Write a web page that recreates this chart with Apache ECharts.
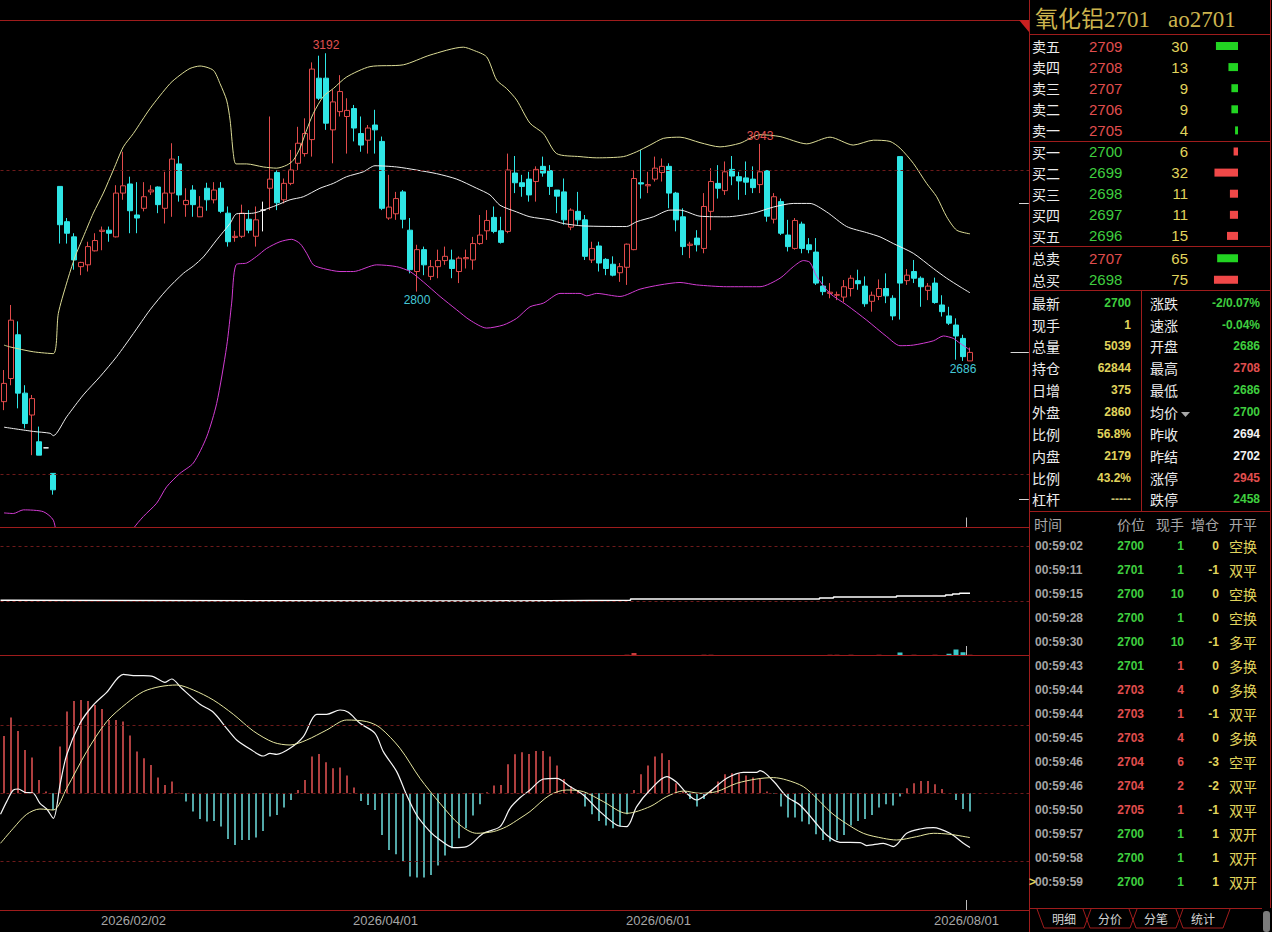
<!DOCTYPE html>
<html><head><meta charset="utf-8">
<script src="https://cdn.jsdelivr.net/npm/echarts@6/dist/echarts.min.js"></script>
<style>html,body{margin:0;padding:0;background:#000;overflow:hidden}#c{width:1272px;height:932px}</style>
</head><body><div id="c"></div>
<script>
// ---------- DATA ----------
// daily candles [open, close, low, high]
const candles = [
[2619,2649,2605,2671],[2657,2753,2646,2778],[2729,2633,2608,2751],[2633,2583,2575,2646],[2597,2624,2531,2630],
[2553,2531,2531,2578],[2543,2543,2543,2543],[2501,2474,2466,2501],[2973,2910,2879,2973],[2915,2896,2879,2921],
[2890,2852,2836,2896],[2841,2848,2827,2849],[2844,2874,2833,2882],[2867,2884,2866,2896],[2899,2901,2868,2907],
[2901,2896,2882,2907],[2890,2962,2889,2975],[2962,2974,2951,3030],[2977,2933,2896,2989],[2926,2921,2896,2980],
[2937,2956,2932,2980],[2964,2967,2959,2975],[2972,2943,2929,2973],[2937,2962,2912,2997],[2962,3018,2923,3044],
[3010,2959,2948,3023],[2943,2950,2923,2970],[2967,2943,2923,2975],[2923,2939,2923,2957],[2970,2951,2933,2979],
[2951,2967,2945,2980],[2970,2932,2929,2980],[2929,2882,2874,2940],[2889,2891,2882,2900],[2891,2929,2888,2943],
[2919,2901,2896,2934],[2891,2918,2874,2940],[2934,2934,2899,2948],[2970,2985,2934,3088],[2996,2946,2934,3000],
[2951,2978,2945,2986],[2978,3000,2975,3033],[3011,3044,3000,3071],[3027,3060,3022,3085],[3050,3166,3022,3177],
[3151,3118,3115,3188],[3151,3077,3066,3192],[3066,3112,3011,3132],[3096,3129,3088,3156],[3088,3098,3027,3118],
[3101,3069,3047,3107],[3060,3041,3030,3088],[3049,3069,3027,3074],[3074,3066,3027,3099],[3047,2937,2934,3055],
[2921,2939,2918,2992],[2928,2953,2918,2964],[2964,2919,2904,2967],[2901,2836,2830,2921],[2833,2869,2800,2877],
[2869,2844,2827,2874],[2825,2841,2819,2852],[2841,2851,2822,2869],[2851,2858,2844,2874],[2852,2838,2822,2869],
[2833,2855,2814,2858],[2854,2856,2838,2869],[2852,2879,2836,2890],[2879,2893,2877,2926],[2900,2917,2885,2934],
[2922,2899,2896,2940],[2900,2881,2879,2923],[2899,3000,2896,3027],[2995,2979,2962,3023],[2979,2973,2956,2992],
[2985,2959,2948,2997],[2981,3001,2948,3006],[3006,2995,2989,3022],[2999,2973,2959,3008],[2967,2957,2929,2967],
[2964,2918,2910,2986],[2906,2934,2901,2937],[2932,2918,2910,2964],[2918,2858,2852,2926],[2852,2871,2847,2882],
[2875,2847,2833,2882],[2853,2838,2827,2855],[2845,2827,2825,2858],[2831,2841,2816,2847],[2840,2878,2811,2879],
[2869,2986,2868,3000],[2979,2977,2953,3033],[2974,2976,2962,2997],[2985,3003,2981,3022],[2996,3006,2981,3019],
[3006,2962,2937,3011],[2962,2918,2899,2964],[2923,2874,2860,2937],[2876,2878,2855,2882],[2888,2877,2866,2901],
[2871,2940,2863,2962],[2932,2981,2901,3003],[2978,2970,2953,3008],[2966,2997,2959,3014],[3001,2990,2975,3023],
[2989,2982,2951,2997],[2987,2980,2959,3014],[2985,2971,2962,3006],[2976,2997,2962,3043],[2999,2924,2915,3000],
[2919,2956,2912,2962],[2948,2896,2893,2953],[2893,2874,2866,2918],[2871,2917,2869,2921],[2911,2871,2863,2915],
[2877,2869,2863,2888],[2865,2814,2811,2888],[2809,2800,2794,2825],[2797,2799,2789,2814],[2794,2795,2786,2800],
[2791,2808,2783,2819],[2805,2822,2792,2827],[2818,2813,2803,2836],[2809,2780,2775,2825],[2784,2794,2767,2800],
[2792,2805,2786,2820],[2805,2793,2781,2830],[2789,2760,2753,2794],[3022,2814,2754,3022],[2818,2827,2811,2837],
[2833,2822,2814,2852],[2822,2808,2775,2825],[2802,2809,2786,2814],[2814,2782,2780,2823],[2778,2767,2759,2794],
[2760,2748,2745,2775],[2745,2727,2688,2756],[2723,2693,2686,2729],[2686,2700,2686,2708]
];
// Bollinger bands: [bar position, price]
const upperBand = [[0,2712],[0.86,2709],[4.19,2701],[7.05,2698],[7.76,2764],[8.95,2814],[10.14,2857],[11.33,2890],[12.76,2929],[14.19,2962],[15.62,3000],[17.05,3038],[18.48,3060],[20.86,3101],[23.71,3142],[25.14,3156],[26.57,3167],[28,3171],[29.9,3164],[30.86,3142],[31.8,3115],[32.3,3082],[32.76,3027],[33.14,3010],[34.67,3010],[37.05,3005],[38.95,3003],[40.4,3008],[41.33,3016],[42.29,3036],[43.24,3066],[44.19,3093],[45.62,3121],[47.05,3134],[48.95,3153],[52.29,3170],[57.05,3173],[60.86,3189],[65.62,3202],[67.05,3197],[68.95,3186],[70.38,3148],[71.8,3134],[73.24,3115],[75.14,3077],[77.05,3060],[78.95,3027],[82.29,3022],[84.67,3020],[88.48,3022],[90.38,3030],[92.29,3041],[94.19,3052],[96.57,3054],[99.43,3045],[102.29,3038],[105.14,3044],[108,3058],[110.86,3055],[114.67,3043],[118,3054],[121.33,3041],[124.19,3049],[126.57,3047],[128,3036],[129.9,3011],[131.8,2978],[133.24,2956],[134.67,2923],[136.1,2901],[138,2895]];
const midBand = [[0,2577],[4.19,2570],[6.57,2567],[7.05,2563],[8.95,2594],[11.33,2630],[13.71,2660],[16.1,2693],[18.48,2731],[20.86,2770],[23.24,2803],[25.62,2830],[27.05,2842],[28.48,2857],[30.38,2885],[32.29,2912],[33.24,2928],[35.62,2929],[37.05,2934],[38.95,2942],[40.86,2951],[42.76,2956],[45.14,2970],[47.05,2978],[48.95,2989],[51.33,2997],[53,3007],[56.1,3005],[58.9,3000],[61.8,2994],[64.67,2985],[67.52,2970],[69.43,2959],[70.86,2942],[73.24,2931],[75.14,2923],[78,2918],[79.9,2912],[82.76,2908],[88.95,2907],[90.38,2915],[92.76,2923],[95.14,2934],[96.57,2934],[99.43,2924],[103.24,2923],[107.05,2929],[109.9,2939],[112.76,2945],[115.14,2945],[117.52,2931],[120.38,2907],[123.24,2897],[125.14,2890],[127.05,2879],[129.9,2863],[132.76,2838],[134.67,2822],[136.57,2808],[138,2798]];
const lowerBand = [[0,2436],[1.33,2435],[2.76,2441],[5.62,2438],[7.05,2424],[7.76,2386],[8.95,2375],[10.14,2367],[12.76,2367],[14.19,2370],[15.62,2372],[17.05,2376],[18.48,2410],[19.9,2430],[21.81,2452],[23.24,2479],[25.14,2501],[27.05,2518],[28.95,2561],[30.38,2616],[31.81,2710],[32.52,2781],[33.14,2844],[34.67,2847],[36.1,2858],[37.52,2871],[39.43,2882],[41.1,2886],[42.29,2879],[43.24,2863],[44.19,2844],[45.62,2838],[48,2833],[49.9,2833],[53.24,2844],[56.1,2841],[58,2833],[59.9,2816],[62.29,2792],[64.67,2770],[66.57,2753],[68.95,2740],[71.33,2745],[73.24,2756],[75.14,2775],[77.05,2781],[79.43,2797],[82.29,2797],[83.24,2793],[84.67,2797],[88,2792],[90.86,2804],[93.71,2811],[96.57,2815],[98.95,2811],[103.24,2808],[108,2808],[110.86,2822],[112.76,2841],[114.19,2851],[115.14,2848],[116.1,2825],[118,2797],[120.38,2778],[123.24,2753],[126.1,2726],[128,2711],[129.9,2712],[132.76,2719],[134.19,2727],[135.62,2723],[136.57,2715],[138,2704]];
// high / low markers [bar, price, kind]
const extremes = [[46,3192,'hi'],[59,2800,'lo'],[108,3043,'hi'],[137,2686,'lo']];
// limit-up / last / limit-down markers
const priceMarks = [2945,2700,2458];
// open interest steps [bar position, lots]
const openInterest = [[-0.5,55700],[0.5,55000],[68.5,55700],[89.5,57000],[116.5,58000],[118.5,59000],[127.5,60000],[134.5,61000],[135.5,62000],[136.5,62844],[138,62844]];
// volume bars [bar, lots, kind]
const volumeBars = [[89,5000,'up'],[90,12000,'up'],[91,4000,'flat'],[100,5000,'up'],[101,5000,'up'],[102,4000,'flat'],[114,4000,'flat'],[116,4000,'flat'],[117,4000,'flat'],[118,5000,'up'],[119,5000,'up'],[121,5000,'up'],[123,4000,'flat'],[125,5000,'up'],[126,4000,'flat'],[127,4000,'flat'],[128,14000,'down'],[129,4000,'flat'],[130,5000,'up'],[131,4000,'flat'],[132,4000,'flat'],[133,5000,'up'],[134,4000,'flat'],[135,9000,'down'],[136,26000,'down'],[137,15000,'down'],[138,5039,'up']];
// MACD histogram per bar
const macdHist = [57.3,75.7,62.3,43.3,35.7,13.3,1.7,-16.7,46.7,81.7,92.3,93.3,92.3,88.3,84.3,73.3,73.3,71.7,57.7,41.7,35,28.3,15.7,8.3,11.7,0.5,-8.3,-18.3,-25.7,-28.3,-27.7,-33.3,-45.7,-51.7,-46.7,-46.7,-44.3,-37.7,-23.3,-21.7,-14.3,-6.7,3.3,13.3,36.7,39.3,31,25,25.7,17.7,5.7,-7.7,-11.7,-16.7,-41.7,-56.7,-61,-67.7,-83.3,-84.3,-84.3,-81.7,-72.3,-62.3,-55,-45,-35,-22.3,-11,1,7.7,8.3,29,39,41,39.3,42.3,42.3,36.7,27.7,14.3,6.7,3,-13.3,-21,-27.7,-32.3,-35,-33.3,-21,3.3,19,27.7,36.7,40,33.3,10,1.7,-5.7,-13.3,-5.7,3.3,11.7,19,20,20,17.7,15.7,15,1.7,-0.5,-13.3,-24.3,-24.3,-28.3,-31,-41,-46.7,-48.3,-46.7,-41.7,-32.3,-27.7,-25.7,-21.7,-14.3,-11,-12.3,-3.3,5,10,12.3,12.3,9,4.3,0,-6.7,-15.7,-18.3];
const difLine = [[-0.5,-21],[0.38,-8.3],[1.33,3.3],[2.05,4.3],[3,1],[4.19,0],[5.14,-10],[6.1,-15.7],[7.05,-25],[8,8.3],[8.95,38.3],[10.86,70],[12.76,88.3],[14.67,101],[17.05,119],[18.48,117.7],[19.9,117.7],[21.33,116.7],[23,111],[23.95,114.3],[25.38,105],[28,89],[29.9,81],[31.8,65],[33.24,53.3],[35.14,44.3],[37.05,37.3],[38,40],[38.95,39],[40.86,45],[42.76,56.7],[44.67,79],[46.1,79],[48,83.3],[49.19,81],[50.86,70],[53,60],[54.19,41.7],[56.1,21.7],[57.52,-1.7],[58.95,-21.7],[60.86,-38.3],[62.29,-46.7],[64.19,-54.3],[66.1,-53.3],[68.48,-40],[70.86,-33.3],[72.29,-15],[73.71,-4.5],[75.14,3.3],[77.05,14.3],[78.95,15],[80.86,6.7],[82.76,-1.7],[85.14,-18.3],[87.52,-31.7],[88.95,-33.3],[90.38,-13.3],[92.29,3.3],[94.67,16.7],[96.1,11],[97.52,0],[98.95,-6.7],[100.86,1.7],[103.24,15],[105.62,21],[107.52,21],[108,22.7],[109.9,12.3],[111.81,-3.3],[113.71,-11.7],[115.62,-26.7],[117.52,-41.7],[119.43,-49],[122.29,-49.3],[123.24,-52.3],[125.62,-50],[127.05,-53.3],[128.95,-40],[130.86,-35.7],[132.76,-34.3],[135.14,-40],[137.05,-50],[138,-54.3]];
const deaLine = [[-0.5,-50],[1.33,-35],[3.24,-21],[5.14,-15.7],[7.05,-16.7],[8.95,5],[11.81,41.7],[14.67,71.7],[17.52,90],[19.9,101.7],[22.29,106.7],[24.67,108.3],[27.05,103.3],[29.9,93.3],[32.76,79],[35.62,62.3],[38.48,51],[40.86,48.3],[43.24,53.3],[46.1,63.3],[48.95,73.3],[51.81,71.7],[53.71,65.7],[56.57,45],[59.43,15],[62.29,-10],[65.14,-31.7],[67.52,-40],[69.9,-38.3],[71.81,-33.3],[73.71,-25],[75.14,-18.3],[78,-1.7],[80.38,3.3],[82.76,1.7],[85.62,-8.3],[88.95,-20],[92.29,-13.3],[94.67,-3.3],[97.05,2.3],[99.43,0],[101.81,1.7],[104.67,10],[107.52,14.3],[109.9,15.7],[111.81,13.3],[114.19,6.7],[116.1,-5],[118,-18.3],[119.9,-28.3],[122.76,-40],[125.62,-45],[127.52,-46.7],[130.38,-43.3],[132.76,-40],[135.14,-41],[138,-44.3]];
// x-axis date ticks (first bar of each labelled date)
const tickLabels = ['2026/02/02','2026/04/01','2026/06/01','2026/08/01'];
const tickFirstBars = [19,55,94,138];
// order book
const askLabels = ['卖五','卖四','卖三','卖二','卖一'];
const askPrices = [2709,2708,2707,2706,2705];
const askVols = [30,13,9,9,4];
const bidLabels = ['买一','买二','买三','买四','买五'];
const bidPrices = [2700,2699,2698,2697,2696];
const bidVols = [6,32,11,11,15];
const totalLabels = ['总卖','总买'];
const totalPrices = [2707,2698];
const totalVols = [65,75];
// quote stats
const statLeftLabels = ['最新','现手','总量','持仓','日增','外盘','比例','内盘','比例','杠杆'];
const statLeftValues = ['2700','1','5039','62844','375','2860','56.8%','2179','43.2%','-----'];
const statRightLabels = ['涨跌','速涨','开盘','最高','最低','均价','昨收','昨结','涨停','跌停'];
const statRightValues = ['-2/0.07%','-0.04%','2686','2708','2686','2700','2694','2702','2945','2458'];
const statRightKinds = ['g','g','g','r','g','g','w','w','r','g'];
// tick-by-tick trades
const tradeTimes = ['00:59:02','00:59:11','00:59:15','00:59:28','00:59:30','00:59:43','00:59:44','00:59:44','00:59:45','00:59:46','00:59:46','00:59:50','00:59:57','00:59:58','00:59:59'];
const tradePrices = [2700,2701,2700,2700,2700,2701,2703,2703,2703,2704,2704,2705,2700,2700,2700];
const tradeLots = [1,1,10,1,10,1,4,1,4,6,2,1,1,1,1];
const tradeLotKinds = ['g','g','g','g','g','r','r','r','r','r','r','r','g','g','g'];
const tradeOiChg = [0,-1,0,0,-1,0,0,-1,0,-3,-2,-1,1,1,1];
const tradeTypes = ['空换','双平','空换','空换','多平','多换','多换','双平','多换','空平','双平','双平','双开','双开','双开'];
const tabs = ['明细','分价','分笔','统计'];

// ---------- CHART ----------
const SLOTS = 147;
const slots = Array.from({length:SLOTS},(_,i)=>String(i));
const bounds = Array.from({length:SLOTS+1},(_,k)=>String(k));
const boundLabel = {};
tickFirstBars.forEach((b,j)=>{boundLabel[String(b)] = tickLabels[j];});
const MARK = 138;

const RED='#e24b4b', CYAN='#2fe6e6', BORDER='#9e1c1c', DASH='#6e1a1a';
const TG='#3fce3f', TR='#e04e4e', TY='#e0d45c', TW='#ececec';
const CJK='"Noto Sans CJK SC","Noto Sans",sans-serif';
const NUM='"Liberation Sans",Arial,sans-serif';

function dashLine(vals){
  return {symbol:'none',silent:true,label:{show:false},
    lineStyle:{color:DASH,type:[3,3],width:1},
    data:vals.map(v=>({yAxis:v}))};
}
function boundaryAxis(grid, withLabels){
  return {gridIndex:grid,type:'category',data:bounds,boundaryGap:false,position:'bottom',
    axisLine:{show:false},splitLine:{show:false},
    axisTick:{show:true,inside:true,length:10,interval:(i)=>i===MARK,lineStyle:{color:'#bdbdbd'}},
    axisLabel:withLabels?{show:true,interval:(i)=>tickFirstBars.indexOf(i)>=0,
      formatter:(v)=>boundLabel[v]||'',color:'#a6a6a6',fontSize:13,fontFamily:NUM,margin:4}:{show:false}};
}

const volData = slots.map(()=>null);
volumeBars.forEach(([i,v,k])=>{
  volData[i] = {value:v,itemStyle:{color:k==='up'?'#c83c3c':(k==='down'?'#3cc8c8':'#8a8a8a')}};
});

const extremeMarks = extremes.map(([i,p,k])=>({
  coord:[slots[i],p], value:p, symbol:'circle', symbolSize:1, itemStyle:{color:'rgba(0,0,0,0)'},
  label:{show:true,position:'inside',formatter:String(p),offset:[0,k==='hi'?-8:8],
    color:k==='hi'?'#e05050':'#45c8d6',fontSize:12,fontFamily:NUM}
}));

const markLeft = {2945:145.0, 2700:143.8, 2458:145.0};
const priceMarkLines = priceMarks.map(p=>[{coord:[markLeft[p],p]},{coord:[146.4,p]}]);

// ---------- RIGHT PANEL GRAPHICS ----------
const G = [];
function T(x,y,text,fill,font,align){
  G.push({type:'text',x:x,y:y,silent:true,z:10,style:{text:String(text),fill:fill,font:font,
    textAlign:align||'left',textVerticalAlign:'middle',align:align||'left',verticalAlign:'middle'}});
}
function L(x1,y1,x2,y2,c){
  G.push({type:'line',silent:true,z:9,shape:{x1:x1,y1:y1,x2:x2,y2:y2},style:{stroke:c||BORDER,lineWidth:1}});
}
// left area frames
L(0,20.5,1029,20.5); L(0,527.5,1029,527.5); L(0,655.5,1029,655.5); L(0,910.5,1029,910.5);
L(1029.5,0,1029.5,932);
// right panel frames
L(1029.5,34.5,1270.5,34.5); L(1029.5,141.5,1270.5,141.5); L(1029.5,246.5,1270.5,246.5);
L(1029.5,290.5,1270.5,290.5); L(1141.5,290.5,1141.5,511.5); L(1029.5,511.5,1270.5,511.5);
L(1270.5,0,1270.5,908); L(1029.5,908.5,1262,908.5);
G.push({type:'polygon',silent:true,z:9,shape:{points:[[1019,20],[1029,20],[1029,32]]},style:{fill:'#cc2020'}});
// title
T(1035,19,'氧化铝2701','#ccb44e','23px "Liberation Serif","Noto Sans CJK SC",serif');
T(1168,19,'ao2701','#ccb44e','23px "Liberation Serif",serif');
// order book
const F14 = '14px '+CJK, FN = '15px '+NUM;
askLabels.forEach((lab,k)=>{const y=46+21.1*k; T(1032,y,lab,TW,F14); T(1089,y,askPrices[k],TR,FN); T(1188,y,askVols[k],TY,FN,'right');});
bidLabels.forEach((lab,k)=>{const y=46+21.1*(k+5); T(1032,y,lab,TW,F14); T(1089,y,bidPrices[k],TG,FN); T(1188,y,bidVols[k],TY,FN,'right');});
totalLabels.forEach((lab,k)=>{const y=258.3+21.5*k; T(1032,y,lab,TW,F14); T(1089,y,totalPrices[k],k===0?TR:TG,FN); T(1188,y,totalVols[k],TY,FN,'right');});
// stats
const FB = 'bold 12px '+NUM;
statLeftLabels.forEach((lab,k)=>{const y=302.7+21.85*k; T(1032,y,lab,TW,F14); T(1131,y,statLeftValues[k],k===0?TG:(k===9?'#c8c070':TY),FB,'right');});
statRightLabels.forEach((lab,k)=>{const y=302.7+21.85*k; T(1150,y,lab,TW,F14);
  const c = statRightKinds[k]==='g'?TG:(statRightKinds[k]==='r'?TR:'#f2f2f2'); T(1260,y,statRightValues[k],c,FB,'right');});
G.push({type:'polygon',silent:true,z:10,shape:{points:[[1181,412],[1190,412],[1185.5,417]]},style:{fill:'#a8a8a8'}});
// trades
const HC='#a8a8a8';
T(1034,524,'时间',HC,F14); T(1145,524,'价位',HC,F14,'right'); T(1184,524,'现手',HC,F14,'right');
T(1219,524,'增仓',HC,F14,'right'); T(1229,524,'开平',HC,F14);
tradeTimes.forEach((t,k)=>{const y=546+23.98*k;
  T(1035,y,t,'#a4a4a4',FB);
  T(1144,y,tradePrices[k],tradePrices[k]>=2703?TR:TG,FB,'right');
  T(1184,y,tradeLots[k],tradeLotKinds[k]==='r'?TR:TG,FB,'right');
  T(1219,y,tradeOiChg[k],TY,FB,'right');
  T(1229,y,tradeTypes[k],TY,F14);
});
T(1029,882,'>',TY,'bold 12px '+NUM);
// tabs
const tabCx = [1064,1110,1156,1203];
tabs.forEach((t,k)=>{const cx=tabCx[k];
  G.push({type:'polyline',silent:true,z:9,shape:{points:[[cx-27,909],[cx-20,928],[cx+20,928],[cx+27,909]]},style:{stroke:BORDER,fill:null,lineWidth:1}});
  T(cx,918,t,'#d4d4d4','12px '+CJK,'center');
});
G.push({type:'rect',silent:true,z:9,shape:{x:1263,y:911,width:7,height:21,r:3},style:{fill:'#7c7c7c'}});

const option = {
  backgroundColor:'#000',
  animation:false,
  grid:[
    {left:0.5,top:20,width:1029,height:507.5},
    {left:0.5,top:528,width:1029,height:128},
    {left:0.5,top:656,width:1029,height:254},
    {left:1138,top:35.45,width:100,height:211},
    {left:1138,top:247.5,width:100,height:43}
  ],
  xAxis:[
    {gridIndex:0,type:'category',data:slots,boundaryGap:true,show:false},
    {gridIndex:0,type:'value',min:-0.5,max:SLOTS-0.5,show:false},
    boundaryAxis(0,false),
    {gridIndex:1,type:'category',data:slots,boundaryGap:true,show:false},
    {gridIndex:1,type:'value',min:-0.5,max:SLOTS-0.5,show:false},
    boundaryAxis(1,false),
    {gridIndex:2,type:'category',data:slots,boundaryGap:true,show:false},
    {gridIndex:2,type:'value',min:-0.5,max:SLOTS-0.5,show:false},
    boundaryAxis(2,true),
    {gridIndex:3,type:'value',min:0,max:136,inverse:true,show:false},
    {gridIndex:4,type:'value',min:0,max:312,inverse:true,show:false}
  ],
  yAxis:[
    {gridIndex:0,type:'value',min:2412,max:3246.7,show:false},
    {gridIndex:1,type:'value',min:0,max:128000,show:false},
    {gridIndex:1,type:'value',min:0,max:512000,show:false},
    {gridIndex:2,type:'value',min:-116.7,max:137.3,show:false},
    {gridIndex:3,type:'category',data:askLabels.concat(bidLabels),inverse:true,show:false},
    {gridIndex:4,type:'category',data:totalLabels,inverse:true,show:false}
  ],
  series:[
    {type:'candlestick',xAxisIndex:0,yAxisIndex:0,data:candles,barWidth:5,
      itemStyle:{color:'#000',color0:CYAN,borderColor:RED,borderColor0:CYAN,borderColorDoji:'#ffffff',borderWidth:1},
      markLine:dashLine([3000,2500]),
      markPoint:{data:extremeMarks,silent:true}},
    {type:'line',xAxisIndex:1,yAxisIndex:0,data:upperBand,smooth:0.25,symbol:'none',lineStyle:{color:'#dcdc96',width:1}},
    {type:'line',xAxisIndex:1,yAxisIndex:0,data:midBand,smooth:0.25,symbol:'none',lineStyle:{color:'#eeeeee',width:1},
      markLine:{symbol:'none',silent:true,label:{show:false},lineStyle:{color:'#d8d8d8',type:'solid',width:1},data:priceMarkLines}},
    {type:'line',xAxisIndex:1,yAxisIndex:0,data:lowerBand,smooth:0.25,symbol:'none',lineStyle:{color:'#d23cd2',width:1}},
    {type:'bar',xAxisIndex:3,yAxisIndex:2,data:volData,barWidth:5},
    {type:'line',xAxisIndex:4,yAxisIndex:1,data:openInterest,step:'end',symbol:'none',lineStyle:{color:'#ffffff',width:1.5},
      markLine:dashLine([55000,110000])},
    {type:'bar',xAxisIndex:6,yAxisIndex:3,barWidth:1.5,
      data:macdHist.map(v=>({value:v,itemStyle:{color:v>=0?'#e85454':'#6ee0e0'}})),
      markLine:dashLine([68,0,-68])},
    {type:'line',xAxisIndex:7,yAxisIndex:3,data:difLine,smooth:0.3,symbol:'none',lineStyle:{color:'#f6f6f6',width:1.2}},
    {type:'line',xAxisIndex:7,yAxisIndex:3,data:deaLine,smooth:0.3,symbol:'none',lineStyle:{color:'#e6e6a0',width:1}},
    {type:'bar',xAxisIndex:9,yAxisIndex:4,barWidth:8,
      data:askVols.map(v=>({value:v,itemStyle:{color:'#22d422'}})).concat(bidVols.map(v=>({value:v,itemStyle:{color:'#f04848'}})))},
    {type:'bar',xAxisIndex:10,yAxisIndex:5,barWidth:8,
      data:[{value:totalVols[0],itemStyle:{color:'#22d422'}},{value:totalVols[1],itemStyle:{color:'#f04848'}}]}
  ],
  graphic:{elements:G}
};
const chart = echarts.init(document.getElementById('c'),null,{renderer:'svg',width:1272,height:932});
chart.setOption(option);
</script>
</body></html>
